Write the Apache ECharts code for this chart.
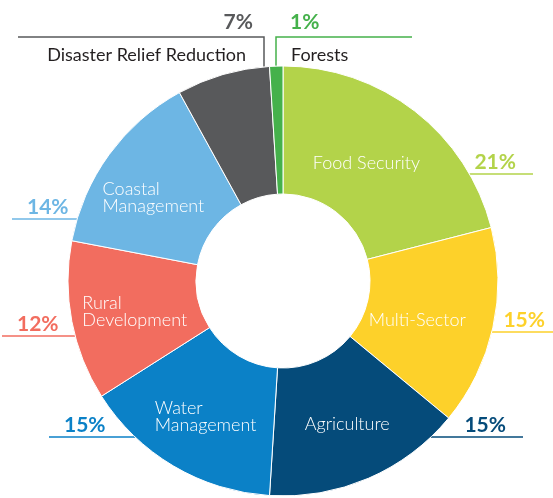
<!DOCTYPE html>
<html>
<head>
<meta charset="utf-8">
<script src="https://cdn.jsdelivr.net/npm/echarts@6/dist/echarts.min.js"></script>
<style>
  html, body { margin: 0; padding: 0; background: #fff; }
  #chart { width: 553px; height: 498px; }
</style>
</head>
<body>
<div id="chart"></div>
<script>
// data, clockwise from 12 o'clock
const sectors = ["Food Security", "Multi-Sector", "Agriculture", "Water Management",
  "Rural Development", "Coastal Management", "Disaster Relief Reduction", "Forests"];
const shares = [21, 15, 15, 15, 12, 14, 7, 1];
const colors = ["#b3d34a", "#fdd12a", "#054b7a", "#0b81c7", "#f26d5f", "#6db6e4", "#58595b", "#45b14b"];

// names written inside the ring (the two small ones are written outside)
const insideNames = ["Food Security", "Multi-Sector", "Agriculture", "Water\nManagement",
  "Rural\nDevelopment", "Coastal\nManagement", null, null];

// ring geometry
const CX = 283, CY = 281, R0 = 87, R = 215;

// where the share tags sit: line height, line end, and for the top two the drop x
const tagY = [174, 332, 437, 437, 336, 219, 37, 37];
const tagEnd = [533, 562, 523, 49, 2, 12, 18, 412];
const tagDropX = [null, null, null, null, null, null, 264, 276];
// small nudges of the inside names
const insideNudge = [[-11, 4], [-16, 6], [3, 2], [1, 4], [3, 2], [-5, 8], [0, 0], [0, 0]];

const FONT = "Lato, 'Open Sans', sans-serif";

const chart = echarts.init(document.getElementById("chart"));

const rich = {};
colors.forEach((c, i) => {
  const top = tagDropX[i] != null;
  const al = top ? (tagEnd[i] > tagDropX[i] ? "left" : "right") : undefined;
  rich["p" + i] = { color: c, fontFamily: FONT, fontWeight: "bold", fontSize: 21,
    lineHeight: top ? 30 : 24, align: al };
  rich["n" + i] = { color: "#231f20", fontFamily: FONT, fontSize: 18, lineHeight: 36,
    align: al, padding: al === "right" ? [0, 7, 0, 0] : [0, 0, 0, 1] };
});

const tagLayout = (p) => {
  const i = p.dataIndex;
  const ly = tagY[i], end = tagEnd[i];
  if (tagDropX[i] != null) {
    const x0 = tagDropX[i];
    const y0 = CY - Math.sqrt(R * R - (x0 - CX) * (x0 - CX));
    const right = end > x0;
    return {
      x: right ? x0 + 14 : x0 - 11, y: ly - 30,
      align: right ? "left" : "right", verticalAlign: "top",
      labelLinePoints: [[x0, y0], [x0, ly], [end, ly]],
    };
  }
  const right = end > CX;
  const x0 = CX + (right ? 1 : -1) * Math.sqrt(R * R - (ly - CY) * (ly - CY));
  return {
    x: right ? end - 17 : end + 15, y: ly - 12,
    align: right ? "right" : "left", verticalAlign: "middle",
    labelLinePoints: [[x0, ly], [x0, ly], [end, ly]],
  };
};

const option = {
  animation: false,
  series: [
    {
      type: "pie",
      center: [CX, CY],
      radius: [R0, R],
      startAngle: 90,
      silent: true,
      avoidLabelOverlap: false,
      itemStyle: { borderColor: "#fff", borderWidth: 1 },
      label: {
        show: true,
        position: "inside",
        color: "#fff",
        fontFamily: FONT,
        fontWeight: 300,
        fontSize: 18,
        lineHeight: 17,
        formatter: (p) => insideNames[p.dataIndex] || "",
      },
      labelLayout: (p) => {
        const [dx, dy] = insideNudge[p.dataIndex];
        return { x: p.labelRect.x + dx, y: p.labelRect.y + dy, align: "left", verticalAlign: "top" };
      },
      labelLine: { show: false },
      data: shares.map((v, i) => ({
        value: v,
        name: sectors[i],
        itemStyle: { color: colors[i] },
        label: { show: insideNames[i] != null },
      })),
    },
    {
      type: "pie",
      center: [CX, CY],
      radius: [R0, R],
      startAngle: 90,
      silent: true,
      avoidLabelOverlap: false,
      itemStyle: { color: "rgba(0,0,0,0)", borderWidth: 0 },
      label: {
        show: true,
        position: "outside",
        width: 260,
        rich: rich,
        formatter: (p) => {
          const i = p.dataIndex;
          const s = "{p" + i + "|" + shares[i] + "%}";
          return tagDropX[i] != null ? s + "\n{n" + i + "|" + sectors[i] + "}" : s;
        },
      },
      labelLine: { show: true, length: 10, length2: 10, lineStyle: { width: 1.5 } },
      labelLayout: tagLayout,
      data: shares.map((v, i) => ({
        value: v,
        name: sectors[i],
        labelLine: { lineStyle: { color: colors[i] } },
      })),
    },
  ],
};

chart.setOption(option);
</script>
</body>
</html>
